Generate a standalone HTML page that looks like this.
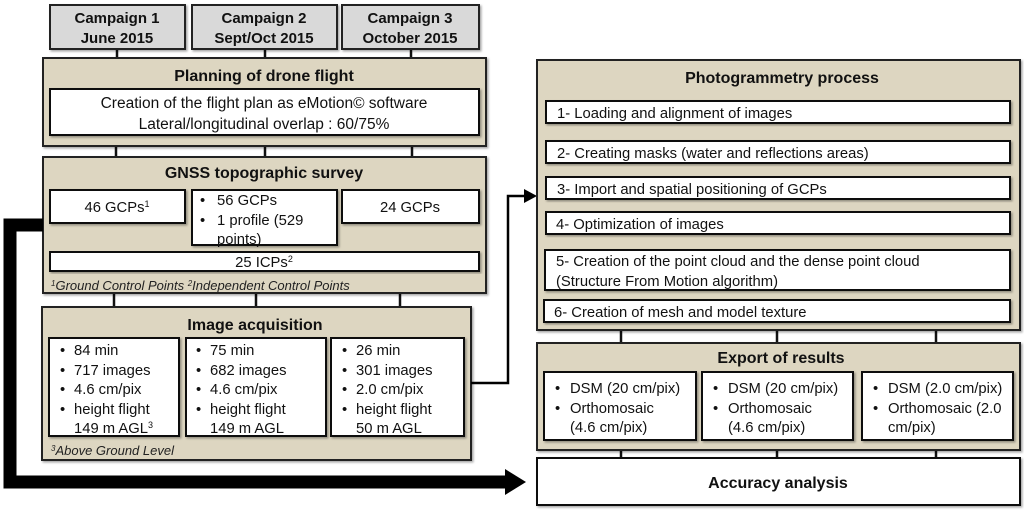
<!DOCTYPE html>
<html><head><meta charset="utf-8"><style>
html,body{margin:0;padding:0;background:#fff;}
svg{display:block;font-family:"Liberation Sans",sans-serif;}
.t{font-weight:bold;font-size:16px;text-anchor:middle;fill:#111;}
.b{font-size:14.8px;fill:#111;}
.c{text-anchor:middle;}
.i{font-style:italic;font-size:13px;fill:#222;}
.tan{fill:#ddd6c1;stroke:#222;stroke-width:2;filter:url(#sh);}
.wh{fill:#fff;stroke:#111;stroke-width:2;filter:url(#sh);}
.gr{fill:#d9d9d9;stroke:#222;stroke-width:2;filter:url(#sh);}
.ln{stroke:#111;stroke-width:2.5;}
</style></head><body>
<svg width="1024" height="510" viewBox="0 0 1024 510">
<defs><filter id="sh" x="-5%" y="-5%" width="110%" height="120%"><feDropShadow dx="1.5" dy="1.5" stdDeviation="1" flood-color="#000" flood-opacity="0.35"/></filter></defs>

<line class="ln" x1="117" y1="49" x2="117" y2="58"/><line class="ln" x1="265" y1="49" x2="265" y2="58"/><line class="ln" x1="411" y1="49" x2="411" y2="58"/>
<line class="ln" x1="116" y1="146" x2="116" y2="157"/><line class="ln" x1="265" y1="146" x2="265" y2="157"/><line class="ln" x1="412" y1="146" x2="412" y2="157"/>
<line class="ln" x1="114" y1="293" x2="114" y2="307"/><line class="ln" x1="256" y1="293" x2="256" y2="307"/><line class="ln" x1="400" y1="293" x2="400" y2="307"/>

<rect class="gr" x="50" y="5" width="135" height="44"/>
<rect class="gr" x="192" y="5" width="145" height="44"/>
<rect class="gr" x="342" y="5" width="137" height="44"/>
<text class="t" style="font-size:15px" x="117" y="23">Campaign 1</text><text class="t" style="font-size:15px" x="117" y="43">June 2015</text>
<text class="t" style="font-size:15px" x="264" y="23">Campaign 2</text><text class="t" style="font-size:15px" x="264" y="43">Sept/Oct 2015</text>
<text class="t" style="font-size:15px" x="410" y="23">Campaign 3</text><text class="t" style="font-size:15px" x="410" y="43">October 2015</text>

<rect class="tan" x="43" y="58" width="443" height="88"/>
<text class="t" x="264" y="81">Planning of drone flight</text>
<rect class="wh" x="50" y="89" width="429" height="46"/>
<text class="b c" style="font-size:15.5px" x="264" y="108">Creation of the flight plan as eMotion© software</text>
<text class="b c" style="font-size:15.5px" x="264" y="129">Lateral/longitudinal overlap : 60/75%</text>

<rect class="tan" x="43" y="157" width="443" height="136"/>
<text class="t" x="264" y="178">GNSS topographic survey</text>
<rect class="wh" x="50" y="190" width="135" height="33"/>
<text class="b c" x="117" y="212">46 GCPs<tspan font-size="9" dy="-5">1</tspan></text>
<rect class="wh" x="192" y="190" width="145" height="55"/>
<text class="b" x="200" y="205">•</text><text class="b" x="217" y="205">56 GCPs</text>
<text class="b" x="200" y="225">•</text><text class="b" x="217" y="225">1 profile (529</text>
<text class="b" x="217" y="244">points)</text>
<rect class="wh" x="342" y="190" width="137" height="33"/>
<text class="b c" x="410" y="212">24 GCPs</text>
<rect class="wh" x="50" y="252" width="429" height="19"/>
<text class="b c" x="264" y="267">25 ICPs<tspan font-size="9" dy="-5">2</tspan></text>
<text class="i" x="51" y="290"><tspan font-size="8" dy="-4">1</tspan><tspan dy="4">Ground Control Points   </tspan><tspan font-size="8" dy="-4">2</tspan><tspan dy="4">Independent Control Points</tspan></text>

<rect class="tan" x="42" y="307" width="429" height="153"/>
<text class="t" x="255" y="330">Image acquisition</text>
<rect class="wh" x="49" y="338" width="130" height="98"/>
<rect class="wh" x="186" y="338" width="140" height="98"/>
<rect class="wh" x="331" y="338" width="133" height="98"/>
<g class="b">
<text x="60" y="355">•</text><text x="74" y="355">84 min</text>
<text x="60" y="375">•</text><text x="74" y="375">717 images</text>
<text x="60" y="394">•</text><text x="74" y="394">4.6 cm/pix</text>
<text x="60" y="414">•</text><text x="74" y="414">height flight</text>
<text x="74" y="433">149 m AGL<tspan font-size="9" dy="-5">3</tspan></text>
<text x="196" y="355">•</text><text x="210" y="355">75 min</text>
<text x="196" y="375">•</text><text x="210" y="375">682 images</text>
<text x="196" y="394">•</text><text x="210" y="394">4.6 cm/pix</text>
<text x="196" y="414">•</text><text x="210" y="414">height flight</text>
<text x="210" y="433">149 m AGL</text>
<text x="342" y="355">•</text><text x="356" y="355">26 min</text>
<text x="342" y="375">•</text><text x="356" y="375">301 images</text>
<text x="342" y="394">•</text><text x="356" y="394">2.0 cm/pix</text>
<text x="342" y="414">•</text><text x="356" y="414">height flight</text>
<text x="356" y="433">50 m AGL</text>
</g>
<text class="i" x="51" y="455"><tspan font-size="8" dy="-4">3</tspan><tspan dy="4">Above Ground Level</tspan></text>

<path d="M43 225 H10 V482 H506" fill="none" stroke="#000" stroke-width="13"/>
<polygon points="505,469 526,482 505,495" fill="#000"/>

<polyline points="471,383 508,383 508,196 526,196" fill="none" stroke="#000" stroke-width="2.5"/>
<polygon points="524,189 537,196 524,203" fill="#000"/>

<line class="ln" x1="621" y1="330" x2="621" y2="343"/><line class="ln" x1="777" y1="330" x2="777" y2="343"/><line class="ln" x1="936" y1="330" x2="936" y2="343"/>
<line class="ln" x1="621" y1="450" x2="621" y2="458"/><line class="ln" x1="777" y1="450" x2="777" y2="458"/><line class="ln" x1="936" y1="450" x2="936" y2="458"/>

<rect class="tan" x="537" y="60" width="483" height="270"/>
<text class="t" x="782" y="83">Photogrammetry process</text>
<rect class="wh" x="546" y="101" width="464" height="22"/>
<rect class="wh" x="546" y="141" width="464" height="22"/>
<rect class="wh" x="546" y="177" width="464" height="22"/>
<rect class="wh" x="546" y="212" width="464" height="22"/>
<rect class="wh" x="545" y="250" width="465" height="40"/>
<rect class="wh" x="544" y="300" width="466" height="22"/>
<g class="b">
<text x="557" y="118">1- Loading and alignment of images</text>
<text x="557" y="158">2- Creating masks (water and reflections areas)</text>
<text x="557" y="194">3- Import and spatial positioning of GCPs</text>
<text x="556" y="229">4- Optimization of images</text>
<text x="556" y="266">5- Creation of the point cloud and the dense point cloud</text>
<text x="556" y="286">(Structure From Motion algorithm)</text>
<text x="554" y="317">6- Creation of mesh and model texture</text>
</g>

<rect class="tan" x="537" y="343" width="483" height="107"/>
<text class="t" x="781" y="363">Export of results</text>
<rect class="wh" x="544" y="372" width="152" height="68"/>
<rect class="wh" x="702" y="372" width="151" height="68"/>
<rect class="wh" x="862" y="372" width="151" height="68"/>
<g class="b">
<text x="555" y="393">•</text><text x="570" y="393">DSM (20 cm/pix)</text>
<text x="555" y="413">•</text><text x="570" y="413">Orthomosaic</text>
<text x="570" y="432">(4.6 cm/pix)</text>
<text x="713" y="393">•</text><text x="728" y="393">DSM (20 cm/pix)</text>
<text x="713" y="413">•</text><text x="728" y="413">Orthomosaic</text>
<text x="728" y="432">(4.6 cm/pix)</text>
<text x="873" y="393">•</text><text x="888" y="393">DSM (2.0 cm/pix)</text>
<text x="873" y="413">•</text><text x="888" y="413">Orthomosaic (2.0</text>
<text x="888" y="432">cm/pix)</text>
</g>

<rect class="wh" x="537" y="458" width="483" height="47"/>
<text class="t" x="778" y="488">Accuracy analysis</text>
</svg>
</body></html>
